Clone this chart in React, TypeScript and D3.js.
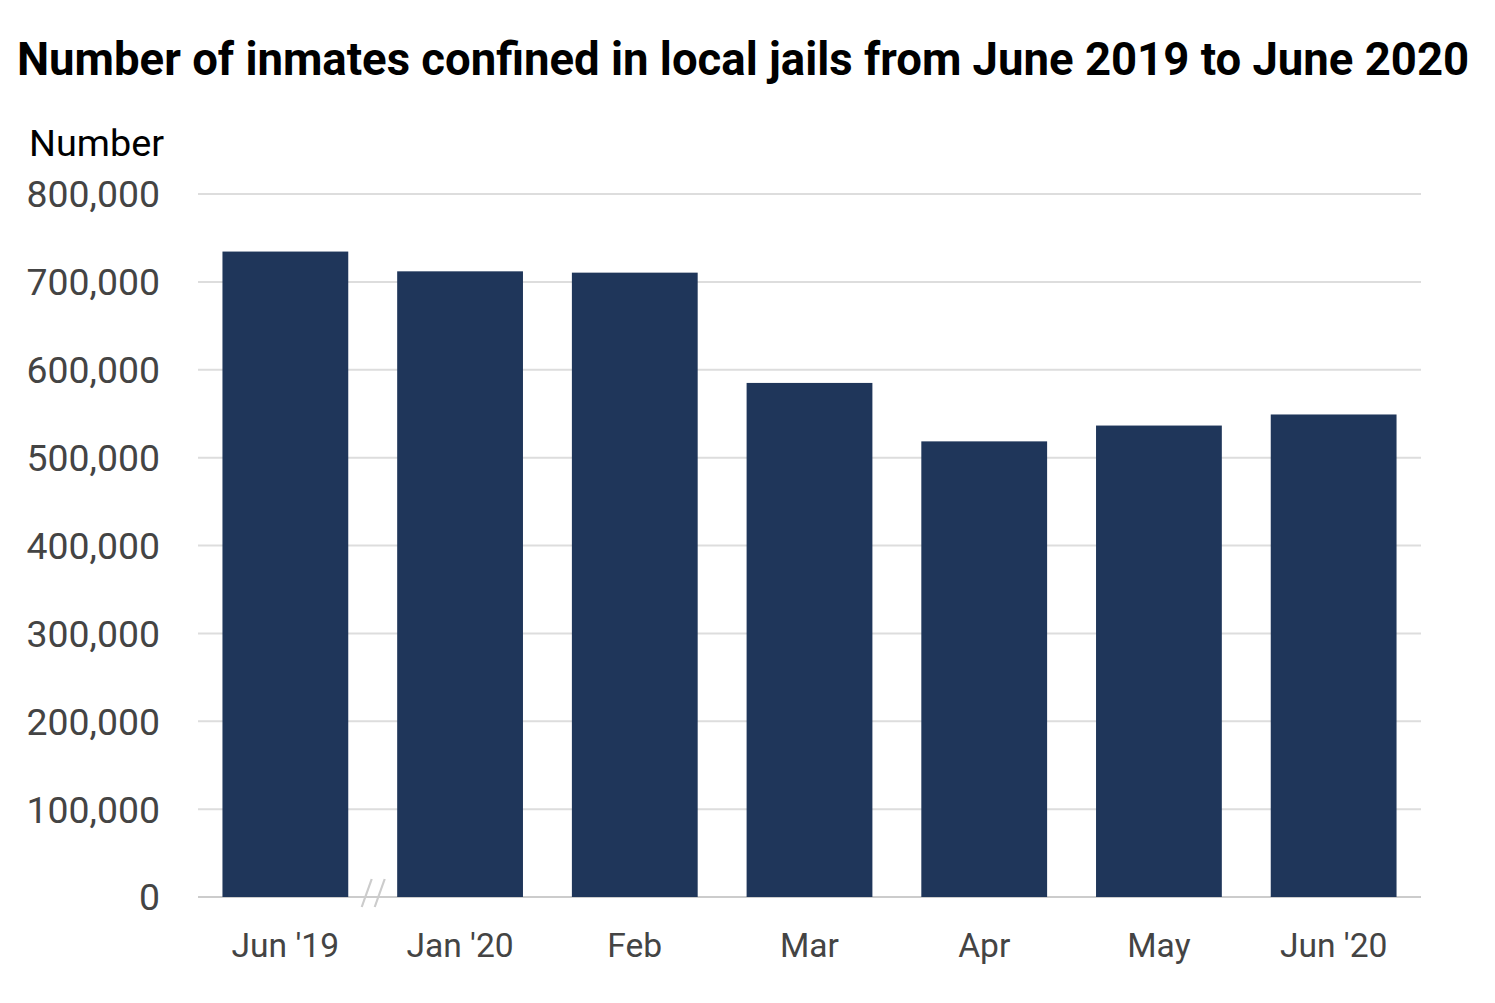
import React, { useEffect, useRef } from 'react';
import * as d3 from 'd3';

const months = ["Jun '19", "Jan '20", 'Feb', 'Mar', 'Apr', 'May', "Jun '20"];
const inmates = [734500, 712000, 710500, 585000, 518500, 536500, 549100];
const yTicks = [0, 100000, 200000, 300000, 400000, 500000, 600000, 700000, 800000];

const W = 1495;
const H = 1003;

export default function App() {
  const svgRef = useRef<SVGSVGElement>(null);

  useEffect(() => {
    if (!svgRef.current) return;
    const svg = d3.select(svgRef.current);
    svg.selectAll('*').remove();

    const left = 198;
    const right = 1421;
    const top = 194;
    const bottom = 897;

    const x = d3.scaleBand<string>()
      .domain(months)
      .range([left, right])
      .paddingInner(0.28)
      .paddingOuter(0.14);

    const y = d3.scaleLinear().domain([0, 800000]).range([bottom, top]);
    const fmt = d3.format(',');

    svg.append('text')
      .attr('x', 17)
      .attr('y', 75)
      .attr('font-family', 'Roboto')
      .attr('font-weight', 700)
      .attr('font-size', 45.5)
      .attr('fill', '#000')
      .text('Number of inmates confined in local jails from June 2019 to June 2020');

    svg.append('text')
      .attr('x', 29)
      .attr('y', 156)
      .attr('font-family', 'Roboto')
      .attr('font-size', 37.8)
      .attr('fill', '#000')
      .text('Number');

    // gridlines
    svg.append('g')
      .selectAll('line')
      .data(yTicks)
      .enter()
      .append('line')
      .attr('x1', left)
      .attr('x2', right)
      .attr('y1', d => y(d))
      .attr('y2', d => y(d))
      .attr('stroke', d => (d === 0 ? '#cccccc' : '#dddddd'))
      .attr('stroke-width', 2);

    svg.append('g')
      .selectAll('text')
      .data(yTicks)
      .enter()
      .append('text')
      .attr('x', 160)
      .attr('y', d => y(d))
      .attr('dy', '0.36em')
      .attr('text-anchor', 'end')
      .attr('font-family', 'Roboto')
      .attr('font-size', 37.4)
      .attr('fill', '#444')
      .text(d => fmt(d));

    svg.append('g')
      .selectAll('rect')
      .data(inmates)
      .enter()
      .append('rect')
      .attr('x', (d, i) => x(months[i])!)
      .attr('width', x.bandwidth())
      .attr('y', d => y(d))
      .attr('height', d => bottom - y(d))
      .attr('fill', '#1f365a');

    // axis break mark between first two bars
    const bx = (x(months[0])! + x.bandwidth() + x(months[1])!) / 2;
    const brk = svg.append('g')
      .attr('stroke', '#cccccc')
      .attr('stroke-width', 2.2);
    [-6, 7].forEach(off => {
      brk.append('line')
        .attr('x1', bx + off - 5)
        .attr('y1', bottom + 10)
        .attr('x2', bx + off + 5)
        .attr('y2', bottom - 18);
    });

    svg.append('g')
      .selectAll('text')
      .data(months)
      .enter()
      .append('text')
      .attr('x', d => x(d)! + x.bandwidth() / 2)
      .attr('y', 957)
      .attr('text-anchor', 'middle')
      .attr('font-family', 'Roboto')
      .attr('font-size', 33.6)
      .attr('fill', '#444')
      .text(d => d);
  }, []);

  return (
    <svg
      ref={svgRef}
      width={W}
      height={H}
      style={{ position: 'absolute', left: 0, top: 0, background: '#fff' }}
    />
  );
}
